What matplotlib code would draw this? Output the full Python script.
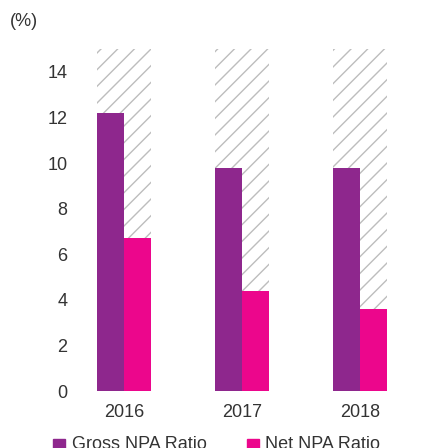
#!/usr/bin/env python3
"""Gross vs net NPA ratio bars, 2016-2018."""

import matplotlib
matplotlib.use("Agg")
import matplotlib.pyplot as plt
import numpy as np

years = ["2016", "2017", "2018"]
gross_npa = [12.2, 9.8, 9.8]
net_npa = [6.7, 4.4, 3.6]
backdrop = [15, 15, 15]
y_ticks = [0, 2, 4, 6, 8, 10, 12, 14]

PURPLE = "#8E278D"
PINK = "#EC068C"
HATCH_GREY = "#BDBDBD"
TEXT = "#333333"

plt.rcParams["font.family"] = ["Liberation Sans", "DejaVu Sans"]
plt.rcParams["hatch.linewidth"] = 1.0

W, H = 440, 448
fig = plt.figure(figsize=(W / 100, H / 100), dpi=100)
fig.patch.set_facecolor("white")

# axes placed in pixel terms: zero line at y=391, 15% at y=49
left_px, right_px = 80, 400
ax = fig.add_axes([left_px / W, (H - 391) / H, (right_px - left_px) / W, 342 / H])

x = np.arange(len(years))
bw = 0.229
unit = 118.0  # pixels between group centres
ax.set_xlim(-(124 - left_px) / unit, 2 + (right_px - 360) / unit)
ax.set_ylim(0, 15)

ax.bar(x, backdrop, width=2 * bw, facecolor="white", edgecolor=HATCH_GREY,
       hatch="//", linewidth=0, zorder=1)
ax.bar(x - bw / 2, gross_npa, width=bw, color=PURPLE, linewidth=0, zorder=2)
ax.bar(x + bw / 2, net_npa, width=bw, color=PINK, linewidth=0, zorder=2)

ax.set_yticks(y_ticks)
ax.set_xticks(x)
ax.set_xticklabels(years)
ax.tick_params(axis="both", length=0, labelsize=13, colors=TEXT)
ax.tick_params(axis="y", pad=9)
ax.tick_params(axis="x", pad=9)
for spine in ax.spines.values():
    spine.set_visible(False)

fig.text(10 / W, 1 - 22 / H, "(%)", fontsize=13, color=TEXT, va="center", ha="left")

# legend along the bottom edge
for sq_x, txt_x, color, label in [(53, 72, PURPLE, "Gross NPA Ratio"),
                                   (247, 265, PINK, "Net NPA Ratio")]:
    fig.patches.append(plt.Rectangle((sq_x / W, 0), 12 / W, (H - 439) / H,
                                     transform=fig.transFigure, color=color))
    fig.text(txt_x / W, -1 / H, label, fontsize=13, color=TEXT,
             ha="left", va="baseline")

fig.savefig("out.png", dpi=100, facecolor="white")
